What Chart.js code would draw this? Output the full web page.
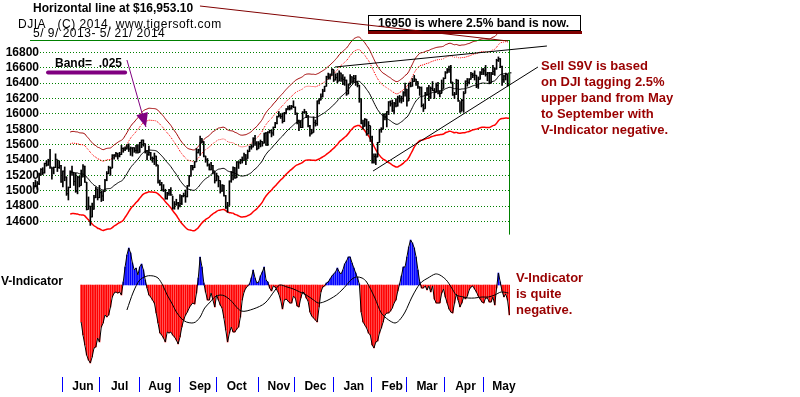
<!DOCTYPE html>
<html>
<head>
<meta charset="utf-8">
<script src="https://cdn.jsdelivr.net/npm/chart.js@4.4.1/dist/chart.umd.min.js"></script>
<style>
html, body { margin: 0; padding: 0; background: #ffffff; }
canvas { display: block; }
</style>
</head>
<body>
<canvas id="djia_chart" width="800" height="397"></canvas>
<script>
// DJIA daily bars, 5/9/2013 - 5/21/2014 (one entry per trading day)
const month_names = ["Jun", "Jul", "Aug", "Sep", "Oct", "Nov", "Dec", "Jan", "Feb", "Mar", "Apr", "May"];
const month_days = [16, 20, 22, 22, 20, 23, 20, 21, 21, 19, 21, 21, 15];

const closes = [
    15083,15118,15092,15215,15276,15233,15354,15335,15388,15307,
    15295,15303,15409,15303,15325,15116,15254,15178,14961,15041,
    15248,15239,15122,14995,15176,15070,15180,15318,15112,14758,
    14799,14660,14760,14910,15024,14910,14975,14932,14989,15136,
    15225,15300,15292,15461,15464,15484,15452,15471,15549,15544,
    15546,15568,15542,15556,15559,15522,15521,15500,15628,15658,
    15612,15519,15471,15498,15426,15420,15451,15338,15112,15081,
    15011,15003,14898,14964,15011,14946,14776,14825,14841,14810,
    14834,14931,14937,14923,15063,15191,15327,15301,15376,15495,
    15530,15677,15637,15451,15401,15335,15273,15328,15258,15130,
    15192,15133,14996,15073,14936,14777,14803,15126,15237,15301,
    15168,15374,15372,15400,15392,15468,15413,15509,15570,15569,
    15680,15618,15546,15616,15639,15619,15747,15594,15762,15783,
    15751,15822,15876,15962,15976,15967,15901,16010,16065,16073,
    16073,16097,16086,16009,15915,15890,15822,16020,16026,15973,
    15844,15739,15755,15885,15875,16168,16179,16221,16295,16358,
    16480,16478,16504,16577,16441,16470,16425,16531,16463,16445,
    16437,16258,16374,16482,16417,16459,16414,16373,16197,15879,
    15838,15929,15739,15849,15699,15373,15445,15440,15629,15794,
    15802,15995,15964,16028,16154,16130,16041,16133,16103,16207,
    16180,16198,16273,16322,16168,16396,16360,16422,16453,16419,
    16351,16340,16109,16066,16247,16336,16222,16331,16303,16277,
    16368,16269,16264,16323,16458,16533,16573,16573,16413,16246,
    16256,16437,16170,16027,16173,16263,16425,16409,16449,16514,
    16502,16502,16361,16449,16535,16581,16559,16513,16531,16401,
    16519,16551,16583,16695,16715,16614,16447,16491,16512,16374,
    16533
];

const highs = [
    15110,15140,15120,15230,15290,15300,15360,15390,15410,15540,
    15300,15310,15480,15400,15390,15330,15260,15310,15180,15050,
    15260,15320,15230,15230,15190,15190,15270,15340,15320,15110,
    14920,14800,14840,14940,15050,15020,15070,15000,15000,15150,
    15250,15320,15310,15470,15470,15500,15490,15500,15590,15560,
    15570,15600,15610,15570,15560,15560,15590,15600,15630,15660,
    15660,15610,15520,15580,15500,15440,15490,15450,15330,15140,
    15110,15080,15020,14980,15020,15040,14930,14860,14890,14850,
    14950,14940,14970,15010,15070,15200,15330,15330,15380,15550,
    15540,15710,15680,15640,15450,15420,15350,15370,15330,15250,
    15230,15190,15130,15080,15070,14940,14850,15130,15250,15310,
    15300,15380,15380,15410,15440,15490,15470,15530,15580,15600,
    15690,15720,15640,15640,15660,15640,15750,15760,15770,15790,
    15790,15830,15890,15970,16030,16000,16010,16020,16070,16100,
    16110,16110,16170,16090,16010,15920,15910,16030,16060,16030,
    15980,15850,15800,15960,15920,16170,16200,16260,16320,16360,
    16490,16530,16520,16590,16570,16520,16530,16560,16530,16510,
    16480,16440,16390,16510,16480,16500,16500,16420,16370,16190,
    15920,15940,15930,15900,15840,15710,15480,15480,15630,15800,
    15820,16000,16000,16030,16160,16170,16180,16150,16200,16230,
    16240,16230,16290,16400,16320,16400,16410,16460,16500,16450,
    16420,16350,16350,16130,16280,16340,16370,16350,16420,16330,
    16400,16410,16300,16440,16470,16550,16590,16620,16630,16410,
    16280,16450,16440,16160,16190,16290,16430,16460,16460,16540,
    16530,16560,16500,16480,16550,16590,16590,16630,16540,16540,
    16540,16630,16600,16710,16740,16720,16620,16500,16530,16510,
    16540
];

const lows = [
    15030,15050,15020,15080,15200,15210,15230,15320,15330,15290,
    15150,15220,15300,15250,15290,15110,15050,15130,14940,14880,
    15040,15200,15070,14980,14960,15050,15070,15180,15110,14750,
    14760,14550,14660,14760,14910,14880,14910,14860,14870,14990,
    15130,15220,15200,15300,15410,15440,15410,15440,15470,15500,
    15520,15540,15510,15460,15450,15500,15490,15490,15500,15560,
    15580,15490,15400,15460,15400,15370,15340,15320,15100,15070,
    15000,14990,14890,14890,14940,14940,14760,14760,14810,14760,
    14790,14820,14920,14850,14920,15060,15190,15270,15300,15380,
    15490,15460,15620,15440,15370,15320,15270,15270,15220,15100,
    15130,15050,14970,14990,14930,14770,14720,14810,15110,15140,
    15160,15170,15290,15350,15360,15400,15340,15420,15510,15540,
    15570,15590,15530,15550,15570,15580,15620,15590,15590,15750,
    15700,15720,15820,15870,15960,15940,15880,15900,16000,16050,
    16050,16060,16080,15990,15870,15780,15820,15820,16010,15950,
    15830,15710,15740,15760,15840,15850,16130,16180,16220,16290,
    16360,16450,16450,16500,16420,16440,16400,16430,16420,16380,
    16370,16240,16260,16380,16400,16410,16370,16350,16150,15870,
    15800,15840,15720,15740,15640,15360,15360,15340,15440,15630,
    15760,15800,15920,15830,15990,16100,16030,16000,16090,16100,
    16150,16140,16160,16230,16100,16170,16350,16360,16420,16370,
    16330,16240,16090,16030,16070,16240,16170,16200,16300,16200,
    16280,16260,16220,16270,16330,16460,16530,16540,16400,16240,
    16200,16250,16160,16020,16040,16020,16270,16360,16390,16450,
    16470,16440,16340,16330,16450,16510,16510,16490,16430,16390,
    16400,16510,16500,16580,16680,16600,16370,16410,16440,16360,
    16380
];

const price_ticks = [14600, 14800, 15000, 15200, 15400, 15600, 15800, 16000, 16200, 16400, 16600, 16800];
const horizontal_line = 16953.10;
const ma_length = 21;
const band_outer = 0.035;
const band_inner = 0.025;

// V-Indicator, first value belongs to trading day 26
const v_start = 26;
const v_indicator = [
    -37,-50,-60,-70,-75,-78,-72,-63,-62,-53,
    -57,-42,-38,-30,-32,-30,-22,-12,-8,-7,
    -8,-7,-10,3,18,30,37,32,22,15,
    17,10,18,21,15,5,-3,-10,-12,-15,
    -18,-28,-38,-48,-50,-53,-57,-47,-48,-47,
    -50,-52,-55,-59,-52,-42,-35,-30,-27,-23,
    -20,-18,-19,-8,7,28,18,2,-7,-15,
    -15,-8,-15,-22,-10,-15,-20,-23,-33,-45,
    -57,-48,-42,-47,-47,-44,-42,-32,-15,-7,
    -3,-1,1,7,15,7,2,3,9,13,
    18,5,3,-3,-6,-1,-2,-5,-9,-15,
    -24,-15,-14,-16,-18,-18,-11,-13,-21,-22,
    -13,-7,-8,-13,-16,-27,-31,-33,-35,-37,
    -22,-7,-2,-1,2,3,6,9,11,13,
    17,13,11,15,21,24,28,28,22,17,
    12,7,1,-27,-37,-40,-43,-48,-50,-60,
    -63,-57,-56,-48,-43,-37,-30,-28,-28,-26,
    -23,-18,-15,-6,1,9,18,18,28,38,
    45,42,37,28,15,3,-3,-3,-1,-5,
    -1,-7,-1,-14,-18,-18,-18,-8,-4,-12,
    -18,-24,-27,-28,-18,-9,-15,-22,-18,-12,
    -14,-11,-5,-2,-1,-4,-7,-11,-14,-17,
    -18,-13,-13,-17,-17,-12,-20,-3,12,3,
    -6,-12,-9,-15,-30
];

// smoothed V-Indicator line
const v_ma_days = [
    51,54.5,58,62,65.5,68,70.5,73,75.5,78,
    81,83.5,86.5,88.5,91,93.5,96.5,99,102,104.5,
    107.5,113.5,120,126.5,132,134.5,138.5,142,145.5,149,
    153,155.5,158.5,162,165.5,168.5,171,174,176.5,179.5,
    182,186.5,190,194,197.5,200,203,206.5,209.5,212,
    215.5,219.5,222,225.5,228.5,231,235,237.5,241,245,
    248.5,252,255.5,259.5
];
const v_ma_values = [
    -25,-7,5,9,9,7,0,-10,-18,-27,
    -34,-37,-38,-37,-32,-23,-17,-12,-10,-11,
    -15,-26,-24,-18,-5,0,-2,-4,-7,-10,
    -15,-18,-17,-14,-10,-5,0,6,8,7,
    3,-13,-28,-35,-38,-35,-27,-13,-3,3,
    7,11,10,5,-3,-10,-12,-13,-13,-12,
    -12,-10,-7,-8
];

// hand drawn lines, [day, price]
const trend_upper = [[164.7, 16609], [280.5, 16882]];
const trend_lower = [[185.5, 15257], [275.6, 16609]];
const pointer_line = [[90.9, 17402], [259.2, 16947]];
const band_arrow = [[51.0, 16700], [61.4, 15829]];
const band_underline = [[7.9, 16537], [50.0, 16537]];

// ---------------------------------------------------------------

const moving_average = closes.map((c, i) =>
{
    if (i < ma_length - 1) return null;
    let sum = 0;
    for (let k = i - ma_length + 1; k <= i; k++) sum += closes[k];
    return sum / ma_length;
});

function band(factor)
{
    const points = [];
    moving_average.forEach((m, i) => { if (m !== null) points.push({ x: i, y: m * factor }); });
    return points;
}

const range_points = closes.map((c, i) => ({ x: i, y: [lows[i], highs[i]] }));
const close_points = closes.map((c, i) => ({ x: i + 0.6, y: c }));
const v_points = v_indicator.map((v, k) => ({ x: v_start + k, y: v }));
const v_ma_points = v_ma_days.map((d, k) => ({ x: d, y: v_ma_values[k] }));

// month edges and label positions on the trading-day axis
const month_edges = [];
const x_ticks = [];
let day_count = 0;
month_days.forEach((n, m) =>
{
    day_count += n;
    if (m < month_names.length)
    {
        const edge = day_count - 0.5;
        month_edges.push(edge);
        x_ticks.push({ value: edge + 11.5, label: month_names[m] });
    }
});

const font_family = '"Liberation Sans", Arial, sans-serif';
const maroon = '#990000';

const notes =
{
    id: 'notes',
    afterDraw(chart)
    {
        const ctx = chart.ctx;
        const xs = chart.scales.x;
        const ys = chart.scales.y;
        const area = chart.chartArea;
        const px = (p) => [xs.getPixelForValue(p[0]), ys.getPixelForValue(p[1])];

        function stroke(a, b, color, width)
        {
            ctx.beginPath();
            ctx.moveTo(a[0], a[1]);
            ctx.lineTo(b[0], b[1]);
            ctx.strokeStyle = color;
            ctx.lineWidth = width;
            ctx.stroke();
        }

        function text(str, x, y, font, color, spacing)
        {
            ctx.font = font;
            ctx.fillStyle = color;
            ctx.letterSpacing = spacing || '0px';
            ctx.textAlign = 'left';
            ctx.textBaseline = 'alphabetic';
            ctx.fillText(str, x, y);
            ctx.letterSpacing = '0px';
        }

        ctx.save();

        // month separators under the plot
        month_edges.forEach((edge) =>
        {
            const ex = Math.round(xs.getPixelForValue(edge)) + 0.5;
            stroke([ex, area.bottom + 1], [ex, area.bottom + 16], '#0000ff', 1);
        });

        // horizontal line and right border
        const hy = Math.round(ys.getPixelForValue(horizontal_line)) - 0.5;
        stroke([30, hy], [area.right, hy], '#008000', 1);
        stroke([area.right - 0.5, hy], [area.right - 0.5, ys.getPixelForValue(14430)], '#008000', 1);

        // trend lines
        stroke(px(trend_upper[0]), px(trend_upper[1]), '#000000', 1);
        stroke(px(trend_lower[0]), px(trend_lower[1]), '#000000', 1);

        // band label, underline and arrow
        ctx.lineCap = 'round';
        stroke(px(band_underline[0]), px(band_underline[1]), '#800080', 4);
        ctx.lineCap = 'butt';
        const s = px(band_arrow[0]);
        const t = px(band_arrow[1]);
        stroke(s, t, '#800080', 1);
        const len = Math.hypot(t[0] - s[0], t[1] - s[1]);
        const ux = (t[0] - s[0]) / len, uy = (t[1] - s[1]) / len;
        const bx = t[0] - ux * 14, by = t[1] - uy * 14;
        ctx.beginPath();
        ctx.moveTo(t[0], t[1]);
        ctx.lineTo(bx - uy * 6, by + ux * 6);
        ctx.lineTo(bx + uy * 6, by - ux * 6);
        ctx.closePath();
        ctx.fillStyle = '#800080';
        ctx.fill();
        text('Band=  .025', 55, 67, 'bold 12px ' + font_family, '#000000');

        // header
        text('Horizontal line at $16,953.10', 33, 12, 'bold 12px ' + font_family, '#000000');
        text('DJIA   (C) 2014, www.tigersoft.com', 18, 28, '12px ' + font_family, '#000000', '0.5px');
        text('5/ 9/ 2013- 5/ 21/ 2014', 33, 37, '12px ' + font_family, '#000000', '0.5px');

        // boxed note
        ctx.fillStyle = '#ffffff';
        ctx.fillRect(368.5, 15.5, 212, 15);
        ctx.strokeStyle = '#000000';
        ctx.lineWidth = 1;
        ctx.strokeRect(368.5, 15.5, 212, 15);
        text('16950 is where 2.5% band is now.', 378, 27, 'bold 12px ' + font_family, '#000000');
        stroke([368, 32.5], [582, 32.5], '#800000', 3);
        stroke(px(pointer_line[0]), px(pointer_line[1]), '#800000', 1);

        // comments
        const comment_font = 'bold 13px ' + font_family;
        ['Sell S9V is based', 'on DJI tagging 2.5%', 'upper band from May', 'to September with', 'V-Indicator negative.']
            .forEach((line, i) => text(line, 541, 70 + i * 16, comment_font, maroon));
        ['V-Indicator', 'is quite', 'negative.']
            .forEach((line, i) => text(line, 516, 282 + i * 16, comment_font, maroon));
        text('V-Indicator', 1, 285, 'bold 12px ' + font_family, '#000000');

        ctx.restore();
    }
};

const data =
{
    datasets:
        [
            {
                type: 'bar',
                label: 'High-Low',
                data: range_points,
                yAxisID: 'y',
                grouped: false,
                barThickness: 1,
                backgroundColor: '#000000',
                borderWidth: 0,
                clip: false,
                order: 2
            },
            {
                type: 'line',
                label: 'Close',
                data: close_points,
                yAxisID: 'y',
                showLine: false,
                pointStyle: 'line',
                pointRadius: 1,
                pointBorderWidth: 1,
                pointBorderColor: '#000000',
                clip: false,
                order: 1
            },
            {
                type: 'line',
                label: 'Upper band',
                data: band(1 + band_outer),
                yAxisID: 'y',
                borderColor: '#a00000',
                borderWidth: 1,
                pointRadius: 0,
                tension: 0.2,
                clip: false,
                order: 3
            },
            {
                type: 'line',
                label: '2.5% band',
                data: band(1 + band_inner),
                yAxisID: 'y',
                borderColor: '#ff0000',
                borderWidth: 1,
                borderDash: [1, 1],
                pointRadius: 0,
                tension: 0.2,
                clip: false,
                order: 3
            },
            {
                type: 'line',
                label: 'Moving average',
                data: band(1),
                yAxisID: 'y',
                borderColor: '#000000',
                borderWidth: 1,
                pointRadius: 0,
                tension: 0.2,
                clip: false,
                order: 3
            },
            {
                type: 'line',
                label: 'Lower band',
                data: band(1 - band_outer),
                yAxisID: 'y',
                borderColor: '#ff0000',
                borderWidth: 1.5,
                pointRadius: 0,
                tension: 0.2,
                clip: false,
                order: 3
            },
            {
                type: 'bar',
                label: 'V-Indicator',
                data: v_points,
                yAxisID: 'v',
                grouped: false,
                barThickness: 1,
                backgroundColor: (c) => (c.raw && c.raw.y >= 0) ? '#0000ff' : '#ff0000',
                borderWidth: 0,
                order: 6
            },
            {
                type: 'line',
                label: 'V-Indicator outline',
                data: v_points,
                yAxisID: 'v',
                borderColor: '#000000',
                borderWidth: 1,
                pointRadius: 0,
                order: 5
            },
            {
                type: 'line',
                label: 'V-Indicator average',
                data: v_ma_points,
                yAxisID: 'v',
                borderColor: '#000000',
                borderWidth: 1,
                pointRadius: 0,
                tension: 0.3,
                order: 4
            }
        ]
};

const config =
{
    type: 'bar',
    data,
    options:
    {
        responsive: false,
        animation: false,
        devicePixelRatio: 1,
        layout: { padding: { left: 0, right: 290, top: 40, bottom: 0 } },
        plugins:
        {
            legend: { display: false },
            tooltip: { enabled: false }
        },
        scales:
        {
            x:
            {
                type: 'linear',
                offset: false,
                min: 3.5,
                max: 260.33,
                afterBuildTicks: (axis) => { axis.ticks = x_ticks.map(t => ({ value: t.value })); },
                afterFit: (axis) => { axis.height = 21; },
                grid: { display: false, offset: false, drawOnChartArea: false, drawTicks: false },
                border: { display: false },
                ticks:
                {
                    autoSkip: false,
                    maxRotation: 0,
                    padding: 3,
                    color: '#000000',
                    font: { family: font_family, size: 12, weight: 'bold' },
                    callback: (value, index) => x_ticks[index] ? x_ticks[index].label : ''
                }
            },
            y:
            {
                type: 'linear',
                position: 'left',
                min: 12592,
                max: 16960,
                afterBuildTicks: (axis) => { axis.ticks = price_ticks.map(v => ({ value: v })); },
                afterFit: (axis) => { axis.width = 40; },
                grid: { color: '#008000', lineWidth: 1, drawTicks: false },
                border: { display: false, dash: [1, 2] },
                ticks:
                {
                    padding: 1,
                    color: '#000000',
                    font: { family: font_family, size: 12, weight: 'bold' },
                    callback: (value) => String(value)
                }
            },
            v:
            {
                type: 'linear',
                display: false,
                min: -91,
                max: 245
            }
        }
    },
    plugins: [notes]
};

new Chart(document.getElementById('djia_chart'), config);
</script>
</body>
</html>
